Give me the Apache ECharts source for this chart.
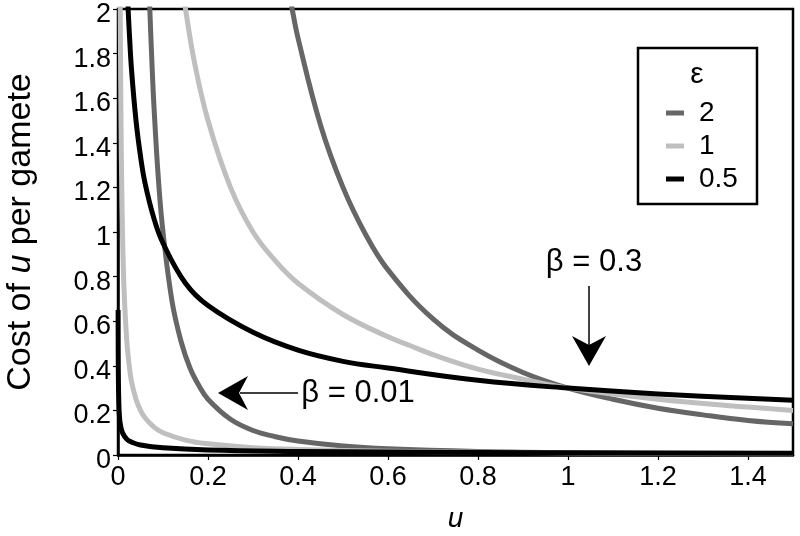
<!DOCTYPE html>
<html>
<head>
<meta charset="utf-8">
<script src="https://cdn.jsdelivr.net/npm/echarts@6/dist/echarts.min.js"></script>
<style>html,body{margin:0;padding:0;background:#fff}#c{width:800px;height:536px}</style>
</head>
<body>
<div id="c"></div>
<script>
// ---- data ----
const epsLabels = ['2', '1', '0.5'];
const xTicks = [0, 0.2, 0.4, 0.6, 0.8, 1, 1.2, 1.4];
const yTicks = [0, 0.2, 0.4, 0.6, 0.8, 1, 1.2, 1.4, 1.6, 1.8, 2];

// beta = 0.3
const u_e2_b03 = [0.375, 0.387, 0.4, 0.45, 0.5, 0.55, 0.6, 0.7, 0.8, 0.9, 1.0, 1.1, 1.2, 1.3, 1.4, 1.5];
const c_e2_b03 = [2.13, 2.0, 1.87, 1.48, 1.2, 0.99, 0.83, 0.61, 0.47, 0.37, 0.3, 0.25, 0.21, 0.18, 0.155, 0.14];
const u_e1_b03 = [0.14, 0.15, 0.17, 0.2, 0.25, 0.3, 0.35, 0.4, 0.5, 0.6, 0.65, 0.7, 0.8, 0.9, 1.0, 1.2, 1.4, 1.5];
const c_e1_b03 = [2.14, 2.0, 1.76, 1.5, 1.2, 1.0, 0.87, 0.77, 0.63, 0.53, 0.49, 0.45, 0.385, 0.34, 0.3, 0.25, 0.215, 0.2];
const u_e05_b03 = [0.02, 0.0225, 0.025, 0.03, 0.04, 0.05, 0.06, 0.08, 0.1, 0.15, 0.2, 0.3, 0.4, 0.5, 0.6, 0.8, 1.0, 1.2, 1.5];
const c_e05_b03 = [2.12, 2.0, 1.9, 1.73, 1.5, 1.34, 1.22, 1.06, 0.95, 0.77, 0.67, 0.55, 0.47, 0.42, 0.39, 0.335, 0.3, 0.274, 0.245];

// beta = 0.01
const u_e2_b001 = [0.068, 0.0707, 0.075, 0.08, 0.09, 0.1, 0.12, 0.14, 0.16, 0.18, 0.2, 0.25, 0.3, 0.35, 0.4, 0.5, 0.6, 0.8, 1.0, 1.5];
const c_e2_b001 = [2.16, 2.0, 1.78, 1.56, 1.23, 1.0, 0.69, 0.51, 0.39, 0.31, 0.25, 0.16, 0.11, 0.082, 0.0625, 0.04, 0.028, 0.016, 0.01, 0.0044];
const u_e1_b001 = [0.0045, 0.005, 0.006, 0.007, 0.008, 0.01, 0.012, 0.015, 0.02, 0.025, 0.03, 0.04, 0.05, 0.06, 0.08, 0.1, 0.15, 0.2, 0.3, 0.4, 0.6, 0.8, 1.0, 1.5];
const c_e1_b001 = [2.2, 2.0, 1.67, 1.43, 1.25, 1.0, 0.83, 0.67, 0.5, 0.4, 0.33, 0.25, 0.2, 0.167, 0.125, 0.1, 0.067, 0.05, 0.033, 0.025, 0.017, 0.0125, 0.01, 0.0067];
const u_e05_b001 = [0.00024, 0.0005, 0.001, 0.002, 0.003, 0.005, 0.01, 0.02, 0.03, 0.05, 0.1, 0.2, 0.4, 0.6, 1.0, 1.5];
const c_e05_b001 = [0.65, 0.45, 0.32, 0.22, 0.18, 0.14, 0.1, 0.07, 0.058, 0.045, 0.032, 0.022, 0.016, 0.013, 0.01, 0.008];

const colors = { '2': '#666666', '1': '#bfbfbf', '0.5': '#000000' };
const FONT = 'Liberation Sans, Arial, Helvetica, sans-serif';

function pairs(u, c) { return u.map((v, i) => [v, c[i]]); }
function mk(name, u, c) {
  return {
    name: name, type: 'line', data: pairs(u, c), showSymbol: false, symbol: 'none',
    smooth: 0.4, clip: true,
    lineStyle: { color: colors[name], width: 5, cap: 'butt', join: 'round' },
    itemStyle: { color: colors[name] }, silent: true, z: 2
  };
}

const chart = echarts.init(document.getElementById('c'), null, { renderer: 'canvas' });
const option = {
  animation: false,
  backgroundColor: '#ffffff',
  grid: { left: 118, top: 9, width: 675, height: 446, show: true, borderColor: '#000', borderWidth: 2.5,
          backgroundColor: 'transparent', containLabel: false, outerBoundsMode: 'none' },
  xAxis: {
    type: 'value', min: 0, max: 1.5, interval: 0.2,
    name: '{i|u}', nameLocation: 'middle', nameGap: 50,
    nameTextStyle: { rich: { i: { fontFamily: FONT, fontSize: 28, fontStyle: 'italic', color: '#000' } } },
    axisLine: { show: true, onZero: false, lineStyle: { color: '#000', width: 2.5 } },
    axisTick: { show: true, inside: false, length: 5, lineStyle: { color: '#000', width: 1.2 } },
    splitLine: { show: false },
    axisLabel: {
      color: '#000', fontFamily: FONT, fontSize: 27, margin: 9, showMaxLabel: false,
      formatter: v => { const t = xTicks.find(k => Math.abs(k - v) < 1e-9); return t === undefined ? '' : String(t); }
    }
  },
  yAxis: {
    type: 'value', min: 0, max: 2, interval: 0.2,
    name: '{a|Cost of }{i|u}{a| per gamete}', nameLocation: 'middle', nameGap: 80, nameRotate: 90,
    nameTextStyle: { rich: {
      a: { fontFamily: FONT, fontSize: 34, color: '#000' },
      i: { fontFamily: FONT, fontSize: 34, fontStyle: 'italic', color: '#000' } } },
    axisLine: { show: true, onZero: false, lineStyle: { color: '#000', width: 2.5 } },
    axisTick: { show: true, inside: false, length: 5, lineStyle: { color: '#000', width: 1.2 } },
    splitLine: { show: false },
    axisLabel: {
      color: '#000', fontFamily: FONT, fontSize: 27, margin: 7, verticalAlign: 'top', lineHeight: 11,
      formatter: v => { const t = yTicks.find(k => Math.abs(k - v) < 1e-9); return t === undefined ? '' : String(t); }
    }
  },
  legend: {
    data: epsLabels, orient: 'vertical', left: 661, top: 94, z: 10,
    icon: 'rect', itemWidth: 18, itemHeight: 5, itemGap: 5,
    textStyle: { fontFamily: FONT, fontSize: 28, color: '#000', padding: [0, 0, 0, 10] },
    selectedMode: false
  },
  series: [
    mk('2', u_e2_b03, c_e2_b03),
    mk('2', u_e2_b001, c_e2_b001),
    mk('1', u_e1_b03, c_e1_b03),
    mk('1', u_e1_b001, c_e1_b001),
    mk('0.5', u_e05_b03, c_e05_b03),
    mk('0.5', u_e05_b001, c_e05_b001)
  ],
  graphic: [
    { type: 'rect', shape: { x: 638, y: 48, width: 119, height: 156 }, style: { fill: '#fff', stroke: '#000', lineWidth: 2.5 }, z: 3 },
    { type: 'text', x: 697, y: 75, style: { text: 'ε', font: '30px ' + FONT, fill: '#000', align: 'center', verticalAlign: 'middle' }, z: 6 },
    // beta = 0.3 annotation
    { type: 'text', x: 594, y: 262, style: { text: 'β = 0.3', font: '31px ' + FONT, fill: '#000', align: 'center', verticalAlign: 'middle' }, z: 6 },
    { type: 'line', shape: { x1: 589, y1: 286, x2: 589, y2: 345 }, style: { stroke: '#000', lineWidth: 1.5 }, z: 6 },
    { type: 'polygon', shape: { points: [[589, 366], [572, 336], [589, 345], [606, 336]] }, style: { fill: '#000' }, z: 6 },
    // beta = 0.01 annotation
    { type: 'text', x: 358, y: 393, style: { text: 'β = 0.01', font: '31px ' + FONT, fill: '#000', align: 'center', verticalAlign: 'middle' }, z: 6 },
    { type: 'line', shape: { x1: 298, y1: 393, x2: 240, y2: 393 }, style: { stroke: '#000', lineWidth: 1.5 }, z: 6 },
    { type: 'polygon', shape: { points: [[218, 393], [248, 376], [239, 393], [248, 410]] }, style: { fill: '#000' }, z: 6 }
  ]
};
chart.setOption(option);
</script>
</body>
</html>
